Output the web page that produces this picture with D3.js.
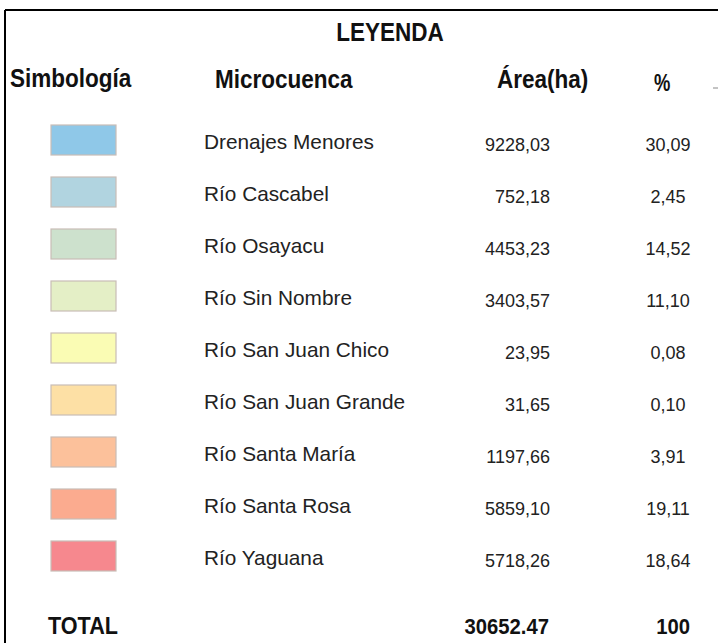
<!DOCTYPE html>
<html>
<head>
<meta charset="utf-8">
<script src="https://cdn.jsdelivr.net/npm/d3@7"></script>
<style>
  html, body { margin: 0; padding: 0; background: #ffffff; }
  svg { display: block; }
</style>
</head>
<body>
<script>
// ---- Data ----
const title = "LEYENDA";
const headers = ["Simbología", "Microcuenca", "Área(ha)", "%"];
const categories = [
  "Drenajes Menores", "Río Cascabel", "Río Osayacu", "Río Sin Nombre",
  "Río San Juan Chico", "Río San Juan Grande", "Río Santa María",
  "Río Santa Rosa", "Río Yaguana"
];
const areaLabels = ["9228,03", "752,18", "4453,23", "3403,57", "23,95", "31,65", "1197,66", "5859,10", "5718,26"];
const percentLabels = ["30,09", "2,45", "14,52", "11,10", "0,08", "0,10", "3,91", "19,11", "18,64"];
const swatchColors = ["#8fc8e8", "#b1d4e0", "#cde1cd", "#e4efc6", "#fafcb4", "#fde0a5", "#fcc19b", "#fbab8f", "#f6888e"];
const totalLabel = "TOTAL";
const totalArea = "30652.47";
const totalPercent = "100";

// ---- Layout ----
const W = 718, H = 643;
const svg = d3.select("body").append("svg").attr("width", W).attr("height", H);
svg.append("rect").attr("width", W).attr("height", H).attr("fill", "#fff");

const FONT = "'Liberation Sans', Arial, Helvetica, sans-serif";
const SX = 0.9; // horizontal condensing for bold headings

// Frame (top and left edges)
svg.append("line").attr("x1", 5).attr("x2", W).attr("y1", 10).attr("y2", 10)
  .attr("stroke", "#000").attr("stroke-width", 2);
svg.append("line").attr("x1", 5).attr("x2", 5).attr("y1", 10).attr("y2", H)
  .attr("stroke", "#000").attr("stroke-width", 2);
// small stray mark at right edge
svg.append("line").attr("x1", 713).attr("x2", 718).attr("y1", 88).attr("y2", 88)
  .attr("stroke", "#888").attr("stroke-width", 1);

// Title
svg.append("text")
  .attr("transform", `translate(390,41) scale(${SX},1)`)
  .attr("text-anchor", "middle")
  .attr("font-family", FONT).attr("font-weight", "bold").attr("font-size", 25)
  .attr("fill", "#111").text(title);

// Column scale (x positions of each column)
const colX = d3.scaleOrdinal().domain(headers).range([10, 215, 497, 654]);
const headerY = d3.scaleOrdinal().domain(headers).range([87, 88, 88, 91]);
const headerSize = d3.scaleOrdinal().domain(headers).range([25, 25, 25, 23]);

svg.selectAll("text.hdr").data(headers).join("text")
  .attr("class", "hdr")
  .attr("transform", d => `translate(${colX(d)},${headerY(d)}) scale(${d === "%" ? 0.8 : SX},1)`)
  .attr("font-family", FONT).attr("font-weight", "bold").attr("font-size", d => headerSize(d))
  .attr("fill", "#111").text(d => d);

// Row scale
const y = d3.scalePoint().domain(categories).range([144, 560]);

const rows = svg.selectAll("g.row").data(categories).join("g")
  .attr("class", "row")
  .attr("transform", d => `translate(0,${y(d)})`);

rows.append("rect")
  .attr("x", 51).attr("y", -19).attr("width", 65).attr("height", 30)
  .attr("fill", (d, i) => swatchColors[i])
  .attr("stroke", "#c9bdb6").attr("stroke-width", 1.2);

rows.append("text")
  .attr("x", 204).attr("y", 5)
  .attr("font-family", FONT).attr("font-size", 20.8).attr("fill", "#222")
  .text(d => d);

rows.append("text")
  .attr("x", 550).attr("y", 6.5).attr("text-anchor", "end")
  .attr("font-family", FONT).attr("font-size", 18).attr("fill", "#222")
  .text((d, i) => areaLabels[i]);

rows.append("text")
  .attr("x", 668).attr("y", 7).attr("text-anchor", "middle")
  .attr("font-family", FONT).attr("font-size", 18).attr("fill", "#222")
  .text((d, i) => percentLabels[i]);

// Total row
const totalY = 634;
svg.append("text")
  .attr("transform", `translate(48,${totalY}) scale(${SX},1)`)
  .attr("font-family", FONT).attr("font-weight", "bold").attr("font-size", 24)
  .attr("fill", "#111").text(totalLabel);
svg.append("text")
  .attr("transform", `translate(549,${totalY}) scale(${SX},1)`)
  .attr("text-anchor", "end")
  .attr("font-family", FONT).attr("font-weight", "bold").attr("font-size", 22.5)
  .attr("fill", "#111").text(totalArea);
svg.append("text")
  .attr("transform", `translate(690,${totalY}) scale(${SX},1)`)
  .attr("text-anchor", "end")
  .attr("font-family", FONT).attr("font-weight", "bold").attr("font-size", 22.5)
  .attr("fill", "#111").text(totalPercent);
</script>
</body>
</html>
